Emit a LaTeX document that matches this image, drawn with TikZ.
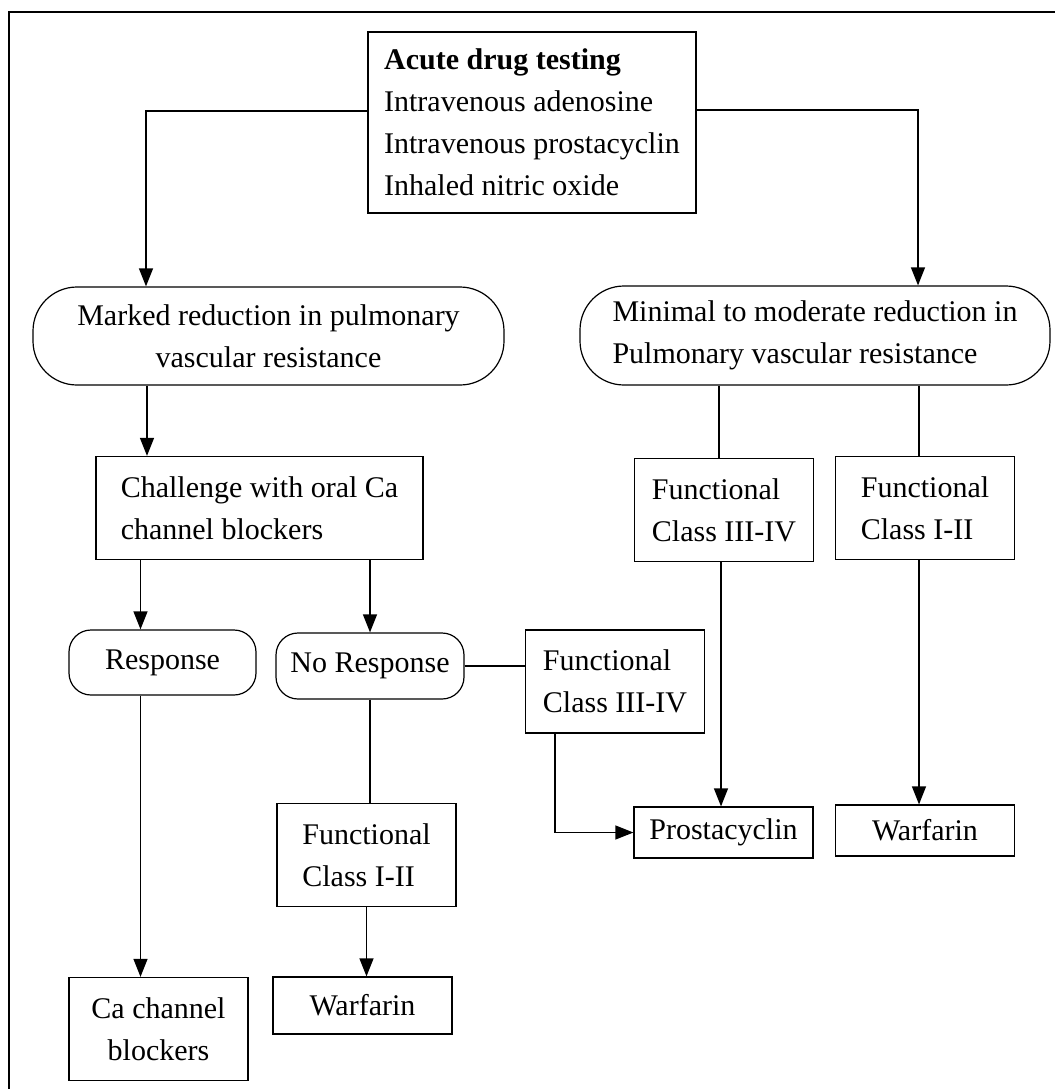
\documentclass[tikz,border=0pt]{standalone}
\usepackage{fontspec}
\setmainfont{Liberation Serif}
\usetikzlibrary{arrows.meta}

\tikzset{
	box/.style={draw, rectangle, inner sep=0pt, align=left, minimum width=89.5pt, minimum height=51.5pt},
	pill/.style={draw, rectangle, rounded corners=#1, inner sep=0pt},
}

\begin{document}
\begin{tikzpicture}[x=0.5pt, y=-0.5pt, >={Triangle[length=9pt,width=7pt]}, line width=0.6pt, font=\fontsize{15}{21}\selectfont]
					\useasboundingbox (0,0) rectangle (1055,1089);
					\draw (9,1089) -- (9,12) -- (1055,12);
					
					\node[box, minimum width=164pt, minimum height=90.5pt] (test) at (532,122.5) {\textbf{Acute drug testing}\\Intravenous adenosine\\Intravenous prostacyclin\\Inhaled nitric oxide};
					
					\node[pill=22pt, minimum width=235.5pt, minimum height=49pt, align=center] (marked) at (268.5,336) {Marked reduction in pulmonary\\vascular resistance};
					\node[pill=22pt, minimum width=235pt, minimum height=49.5pt, align=left] (minimal) at (815,335.5) {Minimal to moderate reduction in\\Pulmonary vascular resistance};
					
					\node[box, minimum width=163.5pt] (chal) at (259.5,508) {Challenge with oral Ca\\channel blockers};
					\node[box] (fcA) at (724,510) {Functional\\Class III-IV};
					\node[box] (fcB) at (925,508) {Functional\\Class I-II};
					
					\node[pill=11pt, minimum width=93.5pt, minimum height=32.5pt] (resp) at (162.5,662.5) {Response};
					\node[pill=11pt, minimum width=94pt, minimum height=33pt] (noresp) at (370,666) {No Response};
					\node[box] (fcC) at (615,681.5) {Functional\\Class III-IV};
					
					\node[box] (fcD) at (366.5,855) {Functional\\Class I-II};
					\node[box, minimum height=25.5pt] (prost) at (723.5,832.5) {Prostacyclin};
					\node[box, minimum height=25.5pt] (warfR) at (925,830.5) {Warfarin};
					
					\node[box, align=center] (cablock) at (158.5,1029) {Ca channel\\blockers};
					\node[box, minimum height=28.5pt] (warfL) at (362.5,1005.5) {Warfarin};
					
					\draw[->] ([yshift=5.75pt]test.west) -| ([xshift=-61.25pt]marked.north);
					\draw[->] ([yshift=6.25pt]test.east) -| ([xshift=51.5pt]minimal.north);
					
					\draw[->] ([xshift=-60.75pt]marked.south) -- ([xshift=-60.75pt]marked.south |- chal.north);
					\draw ([xshift=-2.5pt]fcA.north |- minimal.south) -- ([xshift=-2.5pt]fcA.north);
					\draw ([xshift=-3pt]fcB.north |- minimal.south) -- ([xshift=-3pt]fcB.north);
					
					\draw[->] ([xshift=-11pt]resp.north |- chal.south) -- ([xshift=-11pt]resp.north);
					\draw[->] (noresp.north |- chal.south) -- (noresp.north);
					\draw (noresp.east) -- (noresp.east -| fcC.west);
					
					\draw[->] ([xshift=-11pt]resp.south) -- ([xshift=-11pt]resp.south |- cablock.north);
					\draw (noresp.south) -- (noresp.south |- fcD.north);
					\draw[->] (fcD.south) -- (fcD.south |- warfL.north);
					
					\draw[->] ([xshift=15pt]fcC.south west) |- (prost.west);
					\draw[->] ([xshift=-1.5pt]fcA.south) -- ([xshift=-1.5pt]fcA.south |- prost.north);
					\draw[->] ([xshift=-3pt]fcB.south) -- ([xshift=-3pt]fcB.south |- warfR.north);
\end{tikzpicture}
\end{document}
